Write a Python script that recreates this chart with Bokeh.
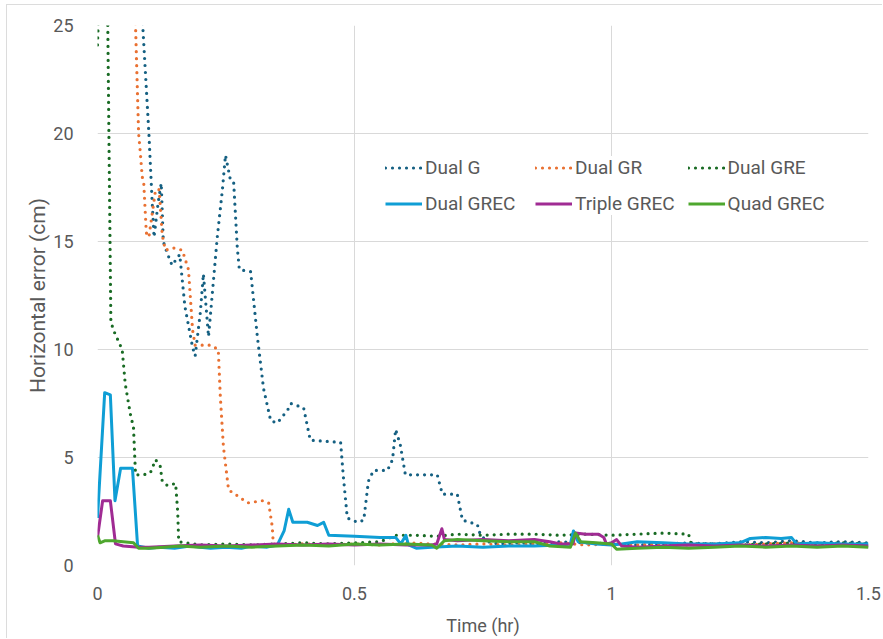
from bokeh.plotting import figure
from bokeh.models import Legend, LegendItem, FixedTicker, Range1d
from bokeh.embed import file_html
from bokeh.resources import INLINE

# ---------------- data ----------------
x_ticks = [0, 0.5, 1, 1.5]
y_ticks = [0, 5, 10, 15, 20, 25]

dual_g_x = [0.080, 0.088, 0.100, 0.106, 0.110, 0.118, 0.124, 0.128, 0.135, 0.145, 0.160, 0.170, 0.185, 0.190,
            0.200, 0.206, 0.216, 0.226, 0.233, 0.243, 0.249, 0.259, 0.265, 0.272, 0.276, 0.298, 0.311, 0.323,
            0.337, 0.350, 0.370, 0.376, 0.401, 0.414, 0.473, 0.478, 0.486, 0.506, 0.518, 0.527, 0.537, 0.564,
            0.574, 0.580, 0.589, 0.599, 0.661, 0.671, 0.700, 0.710, 0.739, 0.745, 0.760, 0.780, 0.820, 0.860,
            0.900, 0.950, 1.000, 1.050, 1.100, 1.150, 1.200, 1.250, 1.300, 1.350, 1.400, 1.450, 1.500]
dual_g_y = [28.0, 25.0, 20.0, 17.0, 15.2, 16.8, 17.7, 15.0, 14.5, 13.9, 14.4, 12.0, 10.1, 9.7,
            11.7, 13.5, 10.6, 13.3, 15.2, 17.4, 19.0, 17.8, 17.7, 14.7, 13.7, 13.6, 10.6, 8.2,
            6.7, 6.6, 7.2, 7.5, 7.3, 5.8, 5.7, 4.2, 2.2, 2.0, 2.1, 3.9, 4.4, 4.4,
            4.9, 6.3, 5.6, 4.2, 4.2, 3.3, 3.3, 2.1, 1.9, 1.4, 1.1, 1.0, 1.05, 1.0,
            1.1, 1.05, 1.0, 0.95, 1.0, 1.05, 1.0, 1.1, 1.05, 1.15, 1.05, 1.1, 1.05]

dual_gr_x = [0.070, 0.074, 0.080, 0.083, 0.087, 0.090, 0.095, 0.100, 0.113, 0.120, 0.126, 0.132, 0.148,
             0.165, 0.177, 0.185, 0.190, 0.220, 0.235, 0.239, 0.245, 0.255, 0.274, 0.292, 0.321, 0.333,
             0.340, 0.342, 0.360, 0.400, 0.450, 0.500, 0.550, 0.600, 0.650, 0.700, 0.750, 0.800, 0.850,
             0.900, 0.950, 1.000, 1.050, 1.100, 1.150, 1.200, 1.250, 1.300, 1.350, 1.400, 1.450, 1.500]
dual_gr_y = [28.0, 25.0, 20.0, 19.2, 18.0, 17.7, 15.4, 15.2, 17.4, 17.4, 15.3, 14.6, 14.7,
             14.6, 13.7, 10.9, 10.2, 10.2, 10.0, 7.8, 5.5, 3.5, 3.2, 2.9, 3.0, 2.9,
             1.8, 1.0, 0.95, 1.0, 0.95, 1.0, 0.95, 1.05, 1.0, 0.95, 1.0, 0.95, 1.0,
             1.05, 0.95, 1.0, 0.95, 1.0, 0.95, 1.0, 0.95, 1.0, 1.05, 1.0, 0.95, 1.0]

dual_gre_x = [0.000, 0.004, 0.016, 0.020, 0.026, 0.031, 0.048, 0.054, 0.064, 0.070, 0.074, 0.090, 0.103,
              0.113, 0.122, 0.126, 0.136, 0.152, 0.156, 0.158, 0.200, 0.250, 0.300, 0.350, 0.400, 0.450,
              0.500, 0.550, 0.580, 0.620, 0.660, 0.700, 0.750, 0.800, 0.850, 0.900, 0.950, 1.000, 1.050,
              1.100, 1.150, 1.155, 1.200, 1.250, 1.300, 1.350, 1.400, 1.450, 1.500]
dual_gre_y = [24.1, 27.0, 27.0, 25.0, 11.3, 10.9, 10.0, 8.4, 7.0, 6.4, 4.2, 4.2, 4.3,
              4.9, 4.6, 3.9, 3.7, 3.8, 2.5, 1.1, 0.95, 1.0, 0.95, 1.0, 1.05, 1.0,
              1.05, 1.1, 1.4, 1.4, 1.35, 1.45, 1.4, 1.45, 1.45, 1.4, 1.45, 1.4, 1.45,
              1.5, 1.45, 1.0, 1.0, 0.95, 1.0, 1.05, 1.0, 1.05, 1.0]

dual_grec_x = [0.000, 0.014, 0.025, 0.034, 0.045, 0.068, 0.078, 0.100, 0.120, 0.150, 0.180, 0.200, 0.220,
               0.250, 0.280, 0.300, 0.330, 0.350, 0.363, 0.372, 0.380, 0.408, 0.428, 0.440, 0.450, 0.500,
               0.550, 0.580, 0.590, 0.600, 0.605, 0.620, 0.650, 0.700, 0.750, 0.800, 0.850, 0.900, 0.920,
               0.926, 0.935, 0.970, 1.000, 1.020, 1.050, 1.100, 1.150, 1.200, 1.250, 1.270, 1.300, 1.330,
               1.350, 1.360, 1.400, 1.450, 1.500]
dual_grec_y = [2.2, 8.0, 7.9, 3.0, 4.5, 4.5, 0.9, 0.8, 0.85, 0.8, 0.9, 0.85, 0.8,
               0.85, 0.8, 0.9, 0.85, 0.95, 1.6, 2.6, 2.0, 2.0, 1.85, 2.0, 1.4, 1.35,
               1.3, 1.3, 1.0, 1.4, 0.95, 0.8, 0.85, 0.9, 0.85, 0.9, 0.9, 0.95, 1.0,
               1.6, 1.1, 1.0, 0.95, 1.0, 1.1, 1.05, 1.0, 1.0, 1.05, 1.25, 1.3, 1.25,
               1.3, 1.0, 1.05, 1.0, 1.0]

triple_grec_x = [0.000, 0.010, 0.025, 0.035, 0.050, 0.080, 0.100, 0.150, 0.200, 0.250, 0.300, 0.350, 0.400,
                 0.450, 0.500, 0.550, 0.600, 0.650, 0.660, 0.670, 0.675, 0.700, 0.750, 0.800, 0.850, 0.880,
                 0.900, 0.925, 0.930, 0.950, 0.975, 0.985, 0.990, 1.000, 1.010, 1.020, 1.050, 1.100, 1.150,
                 1.200, 1.250, 1.300, 1.350, 1.400, 1.450, 1.500]
triple_grec_y = [1.3, 3.0, 3.0, 1.0, 0.9, 0.85, 0.85, 0.9, 0.95, 0.9, 0.95, 1.0, 0.95,
                 1.0, 0.95, 1.0, 0.95, 0.95, 1.0, 1.7, 1.2, 1.15, 1.2, 1.15, 1.2, 1.1,
                 1.0, 1.0, 1.5, 1.45, 1.45, 1.3, 1.0, 1.05, 1.2, 0.9, 0.85, 0.9, 0.95,
                 0.9, 0.95, 0.9, 0.95, 0.9, 0.95, 0.9]

quad_grec_x = [0.000, 0.005, 0.015, 0.030, 0.050, 0.070, 0.080, 0.100, 0.130, 0.160, 0.200, 0.250, 0.300,
               0.350, 0.400, 0.450, 0.500, 0.550, 0.600, 0.650, 0.660, 0.675, 0.700, 0.750, 0.800, 0.850,
               0.880, 0.920, 0.930, 0.940, 0.970, 1.000, 1.010, 1.050, 1.100, 1.150, 1.200, 1.250, 1.300,
               1.350, 1.400, 1.450, 1.500]
quad_grec_y = [1.4, 1.05, 1.15, 1.15, 1.1, 1.05, 0.8, 0.8, 0.85, 0.9, 0.85, 0.9, 0.85,
               0.9, 0.95, 0.9, 1.0, 0.95, 1.0, 0.95, 0.8, 1.15, 1.2, 1.15, 1.1, 1.1,
               0.9, 0.85, 1.5, 1.1, 1.05, 1.0, 0.75, 0.8, 0.85, 0.8, 0.85, 0.9, 0.85,
               0.9, 0.85, 0.9, 0.85]

series = [
    ("Dual G", dual_g_x, dual_g_y, "#156082", True),
    ("Dual GR", dual_gr_x, dual_gr_y, "#E97132", True),
    ("Dual GRE", dual_gre_x, dual_gre_y, "#196B24", True),
    ("Dual GREC", dual_grec_x, dual_grec_y, "#0F9ED5", False),
    ("Triple GREC", triple_grec_x, triple_grec_y, "#A02B93", False),
    ("Quad GREC", quad_grec_x, quad_grec_y, "#4EA72E", False),
]

FONT = "Roboto"
TXT = "#595959"
GRID = "#D9D9D9"

p = figure(width=876, height=634, output_backend="svg", toolbar_location=None,
           x_range=Range1d(0, 1.5), y_range=Range1d(0, 25),
           min_border_left=90, min_border_right=15, min_border_top=20, min_border_bottom=74,
           styles={"margin-left": "7px", "margin-top": "5px",
                   "box-shadow": "-1px -1px 0 #DCDCDC"})
p.outline_line_color = None
p.background_fill_color = "white"
p.border_fill_color = "white"

p.xaxis.ticker = FixedTicker(ticks=x_ticks)
p.yaxis.ticker = FixedTicker(ticks=y_ticks)
for ax in (p.xaxis, p.yaxis):
    ax.axis_line_color = None
    ax.major_tick_line_color = None
    ax.minor_tick_line_color = None
    ax.major_label_text_font = FONT
    ax.major_label_text_font_size = "18px"
    ax.major_label_text_color = TXT
    ax.axis_label_text_font = FONT
    ax.axis_label_text_font_style = "normal"
    ax.axis_label_text_color = TXT
p.xaxis.axis_label_text_font_size = "18px"
p.yaxis.axis_label_text_font_size = "21px"
p.xaxis.major_label_standoff = 15
p.yaxis.major_label_standoff = 18
p.xaxis.axis_label = "Time (hr)"
p.yaxis.axis_label = "Horizontal error (cm)"
p.xaxis.axis_label_standoff = 12
p.yaxis.axis_label_standoff = 0

p.xgrid.grid_line_color = GRID
p.ygrid.grid_line_color = GRID
p.xgrid.grid_line_width = 1
p.ygrid.grid_line_width = 1

items = []
for name, xs, ys, color, dotted in series:
    if dotted:
        r = p.line(xs, ys, line_color=color, line_width=3.2, line_dash="0 7", line_cap="round",
                   line_join="round")
    else:
        r = p.line(xs, ys, line_color=color, line_width=3, line_join="round")
    items.append(LegendItem(label=name, renderers=[r]))

legend = Legend(items=items, ncols=3, location=(288, 350), orientation="horizontal",
                glyph_width=37, glyph_height=15, label_height=15, label_width=97,
                label_standoff=3, spacing=13,
                padding=0, margin=0, border_line_color=None, background_fill_color="white",
                background_fill_alpha=1.0, label_text_font=FONT, label_text_font_size="19px",
                label_text_color=TXT)
p.add_layout(legend, "center")

open("out.html", "w").write(file_html(p, INLINE))
